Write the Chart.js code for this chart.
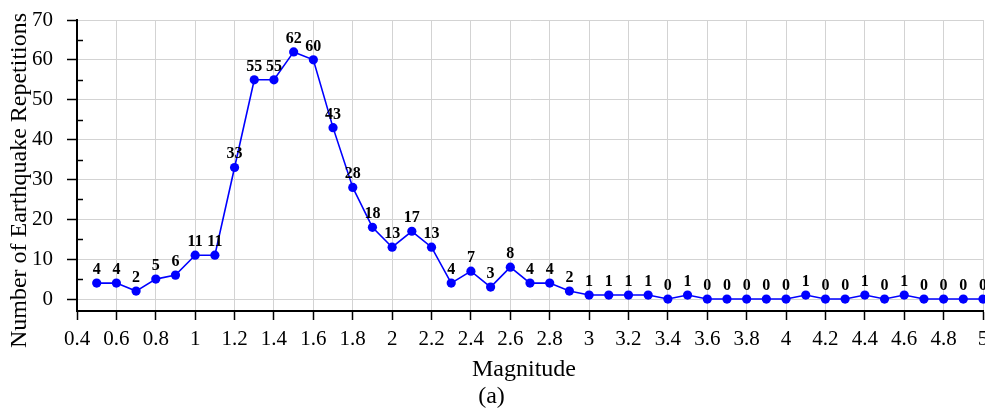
<!DOCTYPE html>
<html>
<head>
<meta charset="utf-8">
<script src="https://cdn.jsdelivr.net/npm/chart.js@4/dist/chart.umd.min.js"></script>
<style>
  html, body { margin: 0; padding: 0; background: #fff; }
  #wrap { width: 985px; height: 412px; }
</style>
</head>
<body>
<div id="wrap"><canvas id="c" width="985" height="412"></canvas></div>
<script>
// ---- data ----
const magnitudes = [0.5, 0.6, 0.7, 0.8, 0.9, 1.0, 1.1, 1.2, 1.3, 1.4, 1.5, 1.6, 1.7, 1.8, 1.9, 2.0,
  2.1, 2.2, 2.3, 2.4, 2.5, 2.6, 2.7, 2.8, 2.9, 3.0, 3.1, 3.2, 3.3, 3.4, 3.5, 3.6, 3.7, 3.8, 3.9, 4.0,
  4.1, 4.2, 4.3, 4.4, 4.5, 4.6, 4.7, 4.8, 4.9, 5.0];
const repetitions = [4, 4, 2, 5, 6, 11, 11, 33, 55, 55, 62, 60, 43, 28, 18, 13,
  17, 13, 4, 7, 3, 8, 4, 4, 2, 1, 1, 1, 1, 0, 1, 0, 0, 0, 0, 0,
  1, 0, 0, 1, 0, 1, 0, 0, 0, 0];
const xTicks = [0.4, 0.6, 0.8, 1, 1.2, 1.4, 1.6, 1.8, 2, 2.2, 2.4, 2.6, 2.8, 3, 3.2, 3.4, 3.6, 3.8, 4, 4.2, 4.4, 4.6, 4.8, 5];
const yTicks = [0, 10, 20, 30, 40, 50, 60, 70];
const yMinorTicks = [5, 15, 25, 35, 45, 55, 65];
const xTitle = 'Magnitude';
const yTitle = 'Number of Earthquake Repetitions';
const caption = '(a)';

const FONT = "'Liberation Serif', 'Times New Roman', Times, serif";

const pointLabels = {
  id: 'pointLabels',
  afterDatasetsDraw(chart) {
    const ctx = chart.ctx;
    const meta = chart.getDatasetMeta(0);
    const ds = chart.data.datasets[0];
    ctx.save();
    ctx.font = "bold 16px " + FONT;
    ctx.fillStyle = '#000';
    ctx.textAlign = 'center';
    ctx.textBaseline = 'alphabetic';
    meta.data.forEach((pt, i) => {
      ctx.fillText(String(ds.data[i].y), pt.x, pt.y - 9);
    });
    ctx.restore();
  }
};

const minorTicks = {
  id: 'minorTicks',
  afterDraw(chart) {
    const ctx = chart.ctx;
    const ys = chart.scales.y;
    const x0 = chart.chartArea.left;
    ctx.save();
    ctx.strokeStyle = '#000';
    ctx.lineWidth = 1.5;
    yMinorTicks.forEach(v => {
      const py = Math.round(ys.getPixelForValue(v)) + 0.5;
      ctx.beginPath();
      ctx.moveTo(x0, py);
      ctx.lineTo(x0 + 6, py);
      ctx.stroke();
    });
    ctx.restore();
  }
};

new Chart(document.getElementById('c'), {
  type: 'line',
  data: {
    datasets: [{
      data: magnitudes.map((m, i) => ({ x: m, y: repetitions[i] })),
      borderColor: '#0000ff',
      backgroundColor: '#0000ff',
      borderWidth: 1.6,
      pointRadius: 4.6,
      pointBackgroundColor: '#0000ff',
      pointBorderColor: '#0000ff',
      pointBorderWidth: 0,
      tension: 0,
      clip: false
    }]
  },
  options: {
    responsive: false,
    animation: false,
    layout: { autoPadding: false, padding: { left: 0, right: 2, top: 20, bottom: 0 } },
    plugins: {
      legend: { display: false },
      tooltip: { enabled: false },
      title: {
        display: true,
        position: 'bottom',
        text: caption,
        color: '#000',
        font: { family: FONT, size: 24, weight: 'normal', lineHeight: 1 },
        padding: { top: 0, bottom: 3.6 }
      }
    },
    scales: {
      x: {
        type: 'linear',
        min: 0.4,
        max: 5,
        afterBuildTicks: s => { s.ticks = xTicks.map(v => ({ value: v })); },
        afterFit: s => { s.height = 73.4; s.paddingLeft = 0; s.paddingRight = 0; },
        ticks: {
          callback: v => String(v),
          color: '#000',
          font: { family: FONT, size: 21 },
          padding: 7,
          maxRotation: 0,
          autoSkip: false
        },
        grid: { color: '#d3d3d3', lineWidth: 1, tickColor: '#000', tickLength: 9, tickWidth: 1.5 },
        border: { color: '#000', width: 2 },
        title: {
          display: true,
          text: xTitle + '  ',
          color: '#000',
          font: { family: FONT, size: 24 },
          padding: 0
        }
      },
      y: {
        min: -3,
        max: 70,
        afterBuildTicks: s => { s.ticks = yTicks.map(v => ({ value: v })); },
        afterFit: s => { s.width = 77; s.paddingTop = 0; s.paddingBottom = 0; },
        ticks: {
          color: '#000',
          font: { family: FONT, size: 21 },
          padding: 14
        },
        grid: { color: '#d3d3d3', lineWidth: 1, tickColor: '#000', tickLength: 10, tickWidth: 1.5 },
        border: { color: '#000', width: 2 },
        title: {
          display: true,
          text: yTitle + '     ',
          color: '#000',
          font: { family: FONT, size: 24 },
          padding: { top: 5.6, bottom: 0 }
        }
      }
    }
  },
  plugins: [pointLabels, minorTicks]
});
</script>
</body>
</html>
